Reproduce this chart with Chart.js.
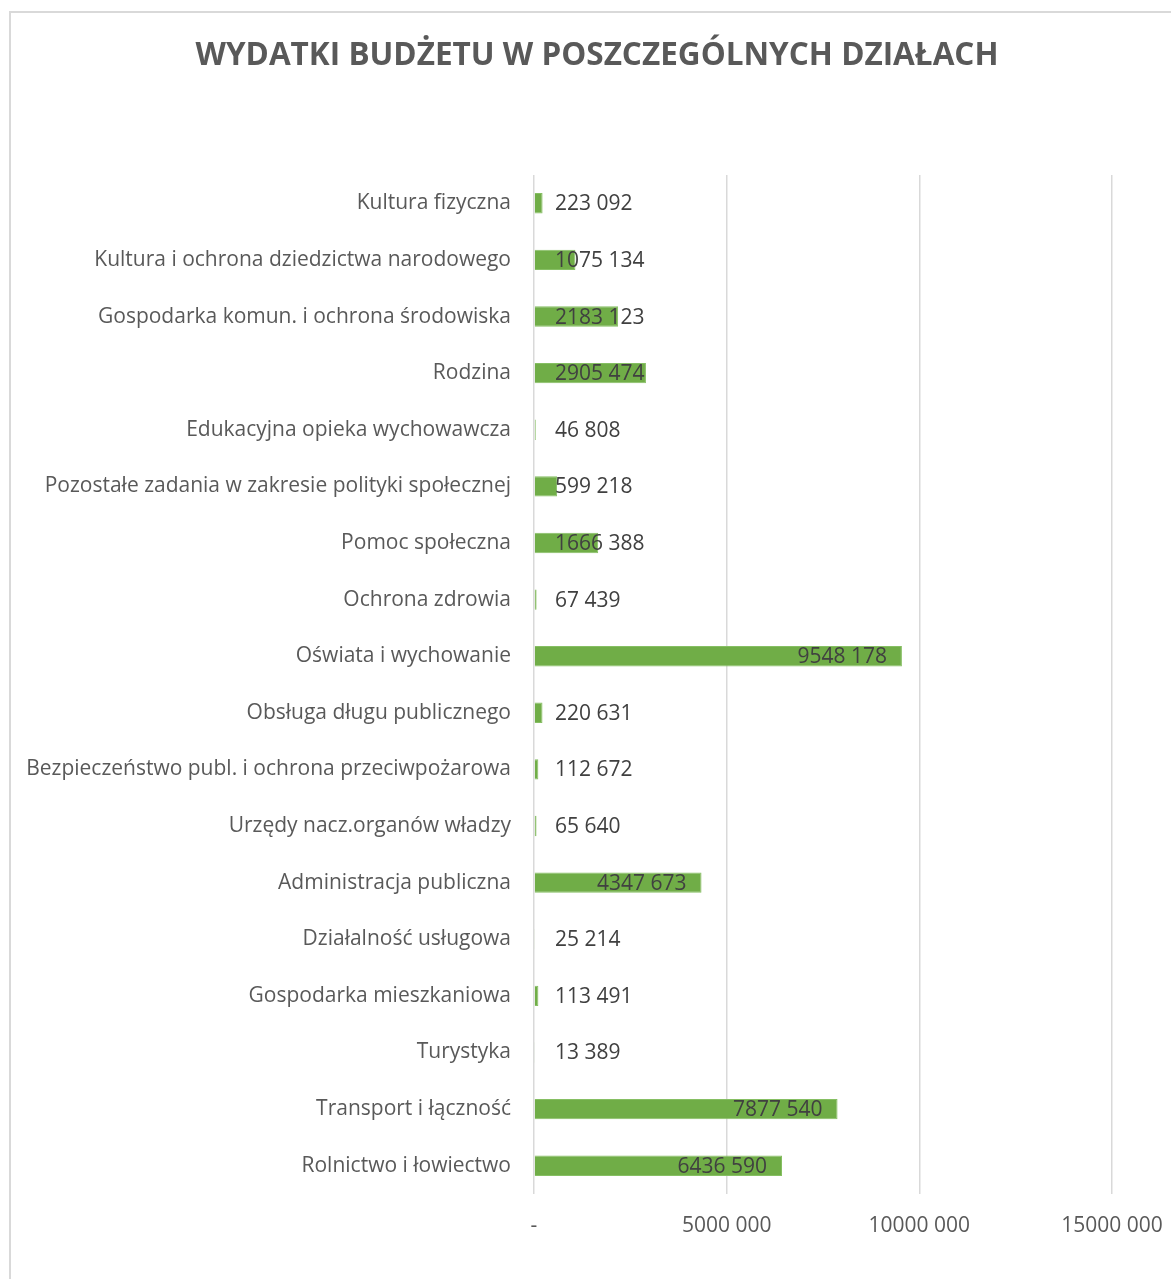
<!DOCTYPE html>
<html>
<head>
<meta charset="utf-8">
<script src="https://cdn.jsdelivr.net/npm/chart.js@4"></script>
<style>
  html, body { margin: 0; padding: 0; background: #fff; overflow: hidden; }
  #frame {
    position: absolute; left: 9px; top: 11px;
    width: 1220px; height: 1320px;
    border: 2px solid #d9d9d9;
  }
  #chart { position: absolute; left: 0; top: 0; }
</style>
</head>
<body>
<div id="frame"></div>
<canvas id="chart" width="1171" height="1279"></canvas>
<script>
// Categories, top to bottom as shown
const categories = [
    'Kultura fizyczna',
    'Kultura i ochrona dziedzictwa narodowego',
    'Gospodarka komun. i ochrona środowiska',
    'Rodzina',
    'Edukacyjna opieka wychowawcza',
    'Pozostałe zadania w zakresie polityki społecznej',
    'Pomoc społeczna',
    'Ochrona zdrowia',
    'Oświata i wychowanie',
    'Obsługa długu publicznego',
    'Bezpieczeństwo publ. i ochrona przeciwpożarowa',
    'Urzędy nacz.organów władzy',
    'Administracja publiczna',
    'Działalność usługowa',
    'Gospodarka mieszkaniowa',
    'Turystyka',
    'Transport i łączność',
    'Rolnictwo i łowiectwo'
];

// Expenditure values
const expenses = [
    223092, 1075134, 2183123, 2905474, 46808, 599218, 1666388, 67439, 9548178,
    220631, 112672, 65640, 4347673, 25214, 113491, 13389, 7877540, 6436590
];

// Axis ticks
const tickValues = [0, 5000000, 10000000, 15000000];

const chartTitle = 'WYDATKI BUDŻETU W POSZCZEGÓLNYCH DZIAŁACH';
const textColor = '#595959';
const baseFont = "'Open Sans', sans-serif";

// Number format as in the sheet: "9548 178", zero shown as "-"
function fmt(v) {
    if (v === 0) return '-';
    const th = Math.floor(v / 1000);
    const rest = String(v % 1000).padStart(3, '0');
    return th > 0 ? th + ' ' + rest : String(v % 1000);
}

// Title centred on the outer frame, not on the plot
const frameTitle = {
    id: 'frameTitle',
    afterDraw(chart) {
        const ctx = chart.ctx;
        ctx.save();
        ctx.font = 'bold 31.5px ' + baseFont;
        ctx.fillStyle = textColor;
        ctx.textAlign = 'center';
        ctx.textBaseline = 'middle';
        ctx.fillText(chartTitle, 597, 56);
        ctx.restore();
    }
};

// Data labels at the inner end of bars, pushed right for short bars
const valueLabels = {
    id: 'valueLabels',
    afterDatasetsDraw(chart) {
        const ctx = chart.ctx;
        const area = chart.chartArea;
        const meta = chart.getDatasetMeta(0);
        ctx.save();
        ctx.font = '21px ' + baseFont;
        ctx.fillStyle = '#404040';
        ctx.textAlign = 'right';
        ctx.textBaseline = 'middle';
        meta.data.forEach((bar, i) => {
            const txt = fmt(expenses[i]);
            const w = ctx.measureText(txt).width;
            const x = Math.max(bar.x - 15, area.left + 21 + w);
            ctx.fillText(txt, x, bar.y + 1);
        });
        ctx.restore();
    }
};

const ctx = document.getElementById('chart').getContext('2d');

new Chart(ctx, {
    type: 'bar',
    data: {
        labels: categories,
        datasets: [{
            data: expenses,
            backgroundColor: '#70ad47',
            borderColor: '#86bf63',
            borderWidth: 1,
            barPercentage: 0.36,
            categoryPercentage: 1
        }]
    },
    plugins: [valueLabels, frameTitle],
    options: {
        indexAxis: 'y',
        responsive: false,
        animation: false,
        layout: { padding: { top: 175, left: 0, right: 59, bottom: 25 } },
        plugins: {
            legend: { display: false },
            tooltip: { enabled: false },
            title: { display: false }
        },
        scales: {
            x: {
                min: 0,
                max: 15000000,
                afterBuildTicks(scale) {
                    scale.ticks = tickValues.map(v => ({ value: v }));
                },
                afterFit(scale) {
                    scale.height = 60;
                    scale.paddingLeft = 0;
                    scale.paddingRight = 0;
                },
                grid: { color: '#d9d9d9', lineWidth: 1.5, drawTicks: false },
                border: { display: false },
                ticks: {
                    color: textColor,
                    padding: 19,
                    font: { family: baseFont, size: 21 },
                    callback: (v) => fmt(v)
                }
            },
            y: {
                afterFit(scale) { scale.width = 534; },
                grid: { display: false },
                border: { display: false },
                ticks: {
                    color: textColor,
                    padding: 15,
                    font: { family: baseFont, size: 21 }
                }
            }
        }
    }
});
</script>
</body>
</html>
